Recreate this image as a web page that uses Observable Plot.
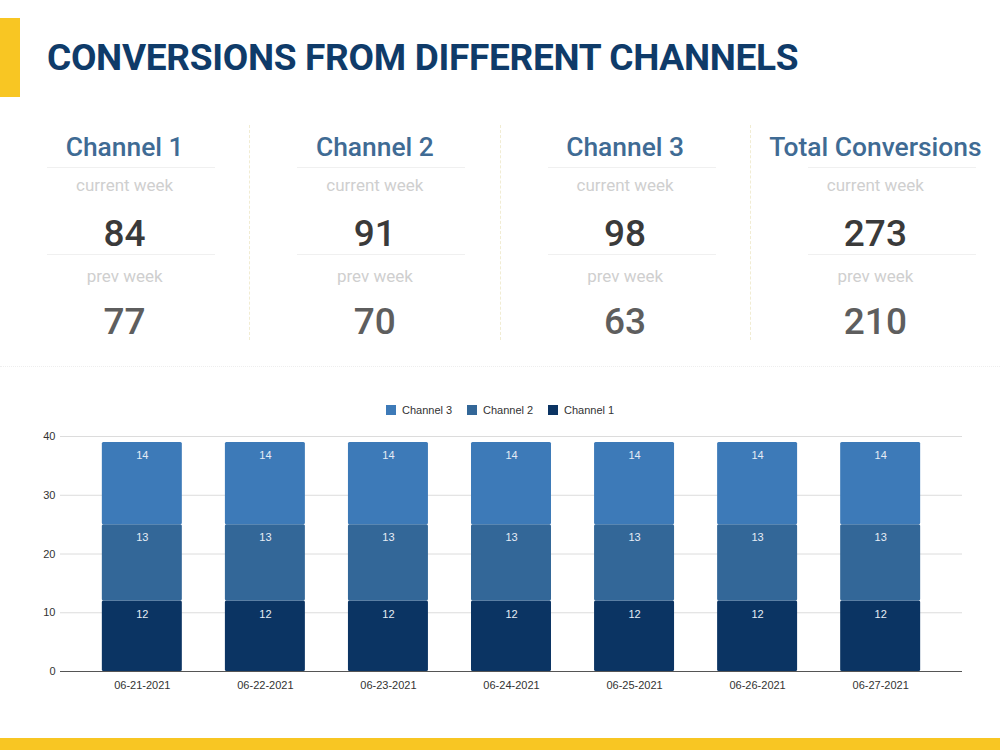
<!DOCTYPE html>
<html>
<head>
<meta charset="utf-8">
<script src="https://cdn.jsdelivr.net/npm/d3@7"></script>
<script src="https://cdn.jsdelivr.net/npm/@observablehq/plot@0.6"></script>
<style>
  html, body { margin: 0; padding: 0; background: #fff; }
  #page { position: relative; width: 1000px; height: 750px; overflow: hidden; background: #fff; font-family: Roboto, "Noto Sans", sans-serif; }
  .accent { position: absolute; left: 0; top: 18px; width: 20px; height: 79px; background: #f8c623; }
  .footer { position: absolute; left: 0; top: 738px; width: 1000px; height: 12px; background: #f8c623; }
  h1 { position: absolute; left: 47px; top: 36px; margin: 0; font-size: 37px; font-weight: 700; color: #0f3b69; letter-spacing: -0.3px; white-space: nowrap; }
  .kpis { position: absolute; left: 0; top: 125px; width: 1000px; height: 215px; display: flex; }
  .kpi { position: relative; width: 250px; height: 215px; text-align: center; }
  .kpi + .kpi { border-left: 1px dashed #f1ecd2; }
  .kpi .head { position: absolute; left: 0; right: 0; top: 7px; font-size: 26.4px; font-weight: 500; color: #3f6b94; white-space: nowrap; }
  .kpi .label { position: absolute; left: 0; right: 0; font-size: 17px; color: #cfcfcf; }
  .kpi .num { position: absolute; left: 0; right: 0; font-size: 37px; font-weight: 500; }
  .kpi .rule { position: absolute; height: 1px; background: #f0f0f0; }
  .sep { position: absolute; left: 0; top: 366px; width: 1000px; border-top: 1px dotted #eeeeee; }
  .legend { position: absolute; top: 404px; left: 0; width: 1000px; font-family: "Liberation Sans", Arial, sans-serif; font-size: 11px; color: #333; }
  .legend span.item { position: absolute; white-space: nowrap; }
  .legend i { display: inline-block; width: 10px; height: 10px; margin-right: 6px; vertical-align: -1px; }
  #chart { position: absolute; left: 0; top: 420px; }
</style>
</head>
<body>
<div id="page">
  <div class="accent"></div>
  <h1>CONVERSIONS FROM DIFFERENT CHANNELS</h1>
  <div class="kpis" id="kpis"></div>
  <div class="sep"></div>
  <div class="legend" id="legend"></div>
  <div id="chart"></div>
  <div class="footer"></div>
</div>
<script>
// KPI cards
const kpiTitles = ["Channel 1", "Channel 2", "Channel 3", "Total Conversions"];
const currentWeek = [84, 91, 98, 273];
const prevWeek = [77, 70, 63, 210];

// Daily stacked conversions
const dates = ["06-21-2021", "06-22-2021", "06-23-2021", "06-24-2021", "06-25-2021", "06-26-2021", "06-27-2021"];
const channels = ["Channel 1", "Channel 2", "Channel 3"];
const channel1 = [12, 12, 12, 12, 12, 12, 12];
const channel2 = [13, 13, 13, 13, 13, 13, 13];
const channel3 = [14, 14, 14, 14, 14, 14, 14];
const yTicks = [0, 10, 20, 30, 40];

const colors = ["#0b3463", "#336798", "#3d7ab8"];

// KPI row
const kpis = document.getElementById("kpis");
kpiTitles.forEach((t, i) => {
  const el = document.createElement("div");
  el.className = "kpi";
  const rl = i === 3 ? 57 : 47, rw = 168;
  el.innerHTML = `
    <div class="head">${t}</div>
    <div class="rule" style="left:${rl}px;width:${rw}px;top:42px"></div>
    <div class="label" style="top:50px">current week</div>
    <div class="num" style="top:87px;color:#3a3a3a">${currentWeek[i]}</div>
    <div class="rule" style="left:${rl}px;width:${rw}px;top:129px"></div>
    <div class="label" style="top:141px">prev week</div>
    <div class="num" style="top:175px;color:#5e5e5e">${prevWeek[i]}</div>`;
  kpis.appendChild(el);
});

// Legend (top series first)
const legend = document.getElementById("legend");
const legendX = [386, 467, 548];
[2, 1, 0].forEach((k, j) => {
  const s = document.createElement("span");
  s.className = "item";
  s.style.left = legendX[j] + "px";
  s.innerHTML = `<i style="background:${colors[k]}"></i>${channels[k]}`;
  legend.appendChild(s);
});

// Long table for the stack
const series = [channel1, channel2, channel3];
const rows = [];
channels.forEach((c, k) => dates.forEach((d, i) => rows.push({date: d, channel: c, value: series[k][i]})));

const chart = Plot.plot({
  width: 1000,
  height: 290,
  marginLeft: 60,
  marginRight: 38,
  marginTop: 16,
  marginBottom: 39,
  style: {fontFamily: "'Liberation Sans', Arial, sans-serif", fontSize: "11px", color: "#333", background: "transparent"},
  x: {domain: dates, paddingInner: 0.35, paddingOuter: 0.34, round: false, label: null, tickSize: 0, tickPadding: 10},
  y: {domain: [0, 40], ticks: yTicks, label: null, tickSize: 0, tickPadding: 5},
  color: {domain: channels, range: colors},
  marks: [
    Plot.ruleY(yTicks.filter(v => v > 0), {stroke: "#dcdcdc", strokeWidth: 1}),
    Plot.barY(rows, Plot.stackY({x: "date", y: "value", z: "channel", fill: "channel", rx: 1.5})),
    Plot.text(rows, Plot.stackY2({x: "date", y: "value", z: "channel", text: "value", dy: 13, fill: "#e6ecf5", fontSize: 11})),
    Plot.ruleY([0], {stroke: "#555", strokeWidth: 1.2})
  ]
});
document.getElementById("chart").appendChild(chart);
</script>
</body>
</html>
